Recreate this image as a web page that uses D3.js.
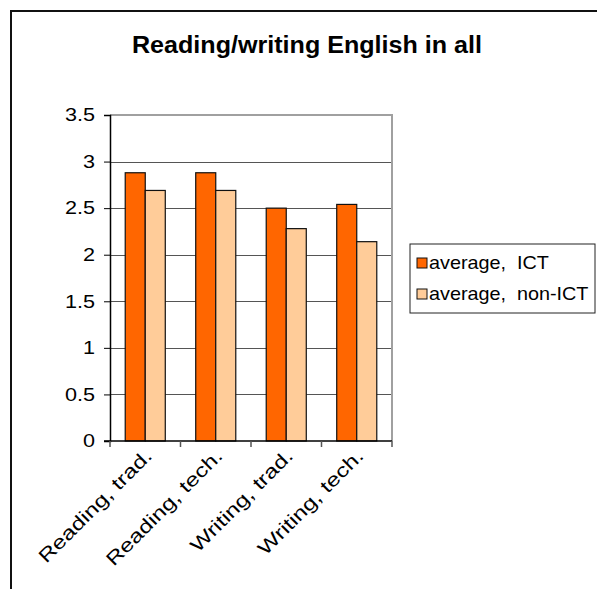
<!DOCTYPE html>
<html>
<head>
<meta charset="utf-8">
<script src="https://cdn.jsdelivr.net/npm/d3@7"></script>
<style>
  html, body { margin: 0; padding: 0; background: #fff; }
  svg { display: block; font-family: Arial, "Liberation Sans", sans-serif; }
</style>
</head>
<body>
<svg id="chart" width="597" height="589"></svg>
<script>
// Chart data
const categories = ["Reading, trad.", "Reading, tech.", "Writing, trad.", "Writing, tech."];
const seriesNames = ["average,  ICT", "average,  non-ICT"];
const ictValues = [2.88, 2.88, 2.50, 2.54];
const nonIctValues = [2.69, 2.69, 2.28, 2.14];
const yTicks = [0, 0.5, 1, 1.5, 2, 2.5, 3, 3.5];
const colors = ["#FF6600", "#FFCC99"];
const titleText = "Reading/writing English in all";

const svg = d3.select("#chart");

// Outer chart frame (extends past the visible page)
svg.append("rect")
  .attr("x", 11).attr("y", 11)
  .attr("width", 700).attr("height", 700)
  .attr("fill", "none").attr("stroke", "#111").attr("stroke-width", 2);

// Title
svg.append("text")
  .attr("x", 307).attr("y", 53)
  .attr("text-anchor", "middle")
  .attr("font-size", 23).attr("font-weight", "bold")
  .attr("textLength", 350).attr("lengthAdjust", "spacingAndGlyphs")
  .text(titleText);

const plot = { left: 110, right: 392, top: 115, bottom: 441 };

const x0 = d3.scaleBand().domain(categories).range([plot.left, plot.right]).paddingInner(0).paddingOuter(0);
// two 20px bars per category, centred with a 150% gap
const x1 = d3.scaleBand().domain([0, 1]).range([0, x0.bandwidth()]).paddingInner(0).paddingOuter(0.76);
const y = d3.scaleLinear().domain([0, 3.5]).range([plot.bottom, plot.top]);

// Gridlines
svg.append("g").selectAll("line").data(yTicks.filter(d => d > 0 && d < 3.5)).join("line")
  .attr("x1", plot.left).attr("x2", plot.right)
  .attr("y1", d => Math.round(y(d)) + 0.5).attr("y2", d => Math.round(y(d)) + 0.5)
  .attr("stroke", "#555").attr("stroke-width", 1);

// Plot area top/right border
svg.append("path")
  .attr("d", `M${plot.left},${plot.top}H${plot.right}V${plot.bottom}`)
  .attr("fill", "none").attr("stroke", "#a0a0a0").attr("stroke-width", 2);

// Bars
const rows = categories.map((c, i) => ({ cat: c, vals: [ictValues[i], nonIctValues[i]] }));
const groups = svg.append("g").selectAll("g").data(rows).join("g")
  .attr("transform", d => `translate(${x0(d.cat)},0)`);
groups.selectAll("rect").data(d => d.vals.map((v, k) => ({ v, k }))).join("rect")
  .attr("x", d => x1(d.k))
  .attr("y", d => y(d.v))
  .attr("width", x1.bandwidth())
  .attr("height", d => y(0) - y(d.v))
  .attr("fill", d => colors[d.k])
  .attr("stroke", "#111").attr("stroke-width", 1.2);

// Y axis
const yAxis = svg.append("g")
  .attr("transform", `translate(${plot.left},0)`)
  .call(d3.axisLeft(y).tickValues(yTicks).tickSize(6).tickPadding(9).tickFormat(d3.format("")));
yAxis.select(".domain").attr("stroke", "#000").attr("stroke-width", 1.5);
yAxis.selectAll(".tick line").attr("stroke", "#000");
yAxis.selectAll(".tick text")
  .attr("x", 0)
  .attr("font-size", 18).attr("font-family", "Arial, 'Liberation Sans', sans-serif")
  .attr("fill", "#000")
  .attr("transform", "translate(-15,0) scale(1.2,1)");

// X axis with tick marks at category boundaries
const xAxisG = svg.append("g").attr("transform", `translate(0,${plot.bottom})`);
xAxisG.append("line").attr("x1", plot.left - 6).attr("x2", plot.right)
  .attr("stroke", "#000").attr("stroke-width", 1.5);
const boundaries = categories.map(c => x0(c)).concat([plot.right]);
xAxisG.selectAll("line.tk").data(boundaries).join("line").attr("class", "tk")
  .attr("x1", d => d).attr("x2", d => d).attr("y1", 0).attr("y2", 6)
  .attr("stroke", "#555").attr("stroke-width", 1.5);
xAxisG.selectAll("text").data(categories).join("text")
  .attr("transform", d => `translate(${x0(d) + x0.bandwidth() / 2 + 8},${16}) rotate(-45) scale(1.27,1)`)
  .attr("text-anchor", "end")
  .attr("font-size", 19)
  .attr("fill", "#000")
  .text(d => d);

// Legend
const legend = svg.append("g").attr("transform", "translate(410,244)");
legend.append("rect").attr("width", 185).attr("height", 69)
  .attr("fill", "#fff").attr("stroke", "#222").attr("stroke-width", 1);
seriesNames.forEach((name, k) => {
  const row = legend.append("g").attr("transform", `translate(7,${14 + k * 31})`);
  row.append("rect").attr("width", 10).attr("height", 10)
    .attr("fill", colors[k]).attr("stroke", "#111").attr("stroke-width", 1);
  row.append("text").attr("x", 0).attr("y", 11)
    .attr("font-size", 18).attr("fill", "#000")
    .attr("transform", "translate(12,0) scale(1.1,1)")
    .style("white-space", "pre")
    .text(name);
});
</script>
</body>
</html>
